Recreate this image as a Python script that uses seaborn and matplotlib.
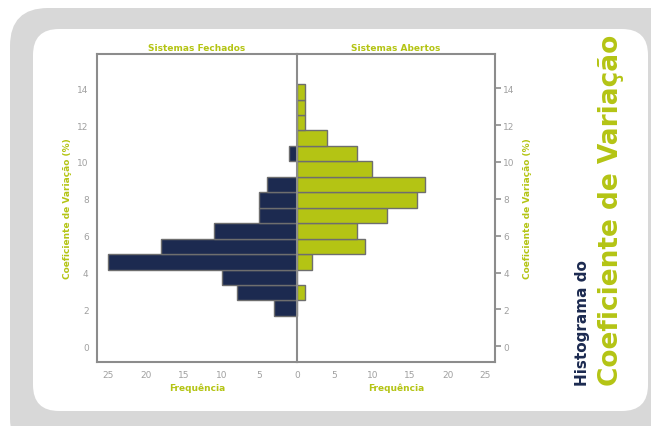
import seaborn as sns
import numpy as np
import pandas as pd
import matplotlib.pyplot as plt
from matplotlib.patches import FancyBboxPatch
from matplotlib.transforms import IdentityTransform

# bin edges of the coefficient of variation (%)
edges = [1.65, 2.49, 3.33, 4.16, 5.0, 5.84, 6.68, 7.52, 8.35, 9.19, 10.03, 10.87, 11.71, 12.55, 13.38, 14.22]
fechados = [3, 8, 10, 25, 18, 11, 5, 5, 4, 0, 1, 0, 0, 0, 0]
abertos = [0, 1, 0, 2, 9, 8, 12, 16, 17, 10, 8, 4, 1, 1, 1]
yticks = [0, 2, 4, 6, 8, 10, 12, 14]
xticks = [0, 5, 10, 15, 20, 25]

mids = [(edges[i] + edges[i + 1]) / 2 for i in range(len(edges) - 1)]
data = pd.DataFrame({'cv': mids, 'Fechados': fechados, 'Abertos': abertos})

navy = '#1c2a50'
green = '#b4c414'
gray = '#8c8c8c'
tickgray = '#a0a0a0'

sns.set_style('white')
plt.rcParams['font.family'] = ['DejaVu Sans']

fig = plt.figure(figsize=(6.51, 4.27), dpi=100)

# gray frame with rounded white panel
fig.patches.append(FancyBboxPatch((10, -30), 700, 448, boxstyle='round,pad=0,rounding_size=38',
                                  transform=IdentityTransform(), facecolor='#d8d8d8', edgecolor='none', zorder=-2))
fig.patches.append(FancyBboxPatch((33, 15), 615, 382, boxstyle='round,pad=0,rounding_size=26',
                                  transform=IdentityTransform(), facecolor='white', edgecolor='none', zorder=-1))

axl = fig.add_axes([97 / 651, 1 - 363 / 427, 200 / 651, 308 / 427])
axr = fig.add_axes([297 / 651, 1 - 363 / 427, 198 / 651, 308 / 427], sharey=axl)

sns.histplot(data=data, y='cv', weights='Fechados', bins=edges, color=navy, alpha=1,
             edgecolor='#6e6e6e', linewidth=1, ax=axl)
sns.histplot(data=data, y='cv', weights='Abertos', bins=edges, color=green, alpha=1,
             edgecolor='#6e6e6e', linewidth=1, ax=axr)

axl.set_xlim(26.5, 0)
axr.set_xlim(0, 26.3)
axl.set_ylim(-0.85, 15.85)
axl.set_yticks(yticks)
axl.set_xticks(xticks)
axr.set_xticks(xticks[1:])

for ax in (axl, axr):
    ax.set_facecolor('none')
    for s in ax.spines.values():
        s.set_color(gray)
        s.set_linewidth(1.5)
    ax.tick_params(colors=gray, labelcolor=tickgray, labelsize=6.5, length=4, width=1.2,
                   direction='out', pad=2)
    ax.set_xlabel('Frequência', color=green, fontsize=6.5, fontweight='bold', labelpad=2)

axl.spines['right'].set_visible(False)
axr.tick_params(axis='y', left=False, right=True, labelleft=False, labelright=True)
axr.yaxis.set_label_position('right')

axl.set_ylabel('Coeficiente de Variação (%)', color=green, fontsize=6.5, fontweight='bold', labelpad=4)
axr.set_ylabel('Coeficiente de Variação (%)', color=green, fontsize=6.5, fontweight='bold',
               rotation=90, labelpad=6)

axl.set_title('Sistemas Fechados', color=green, fontsize=6.5, fontweight='bold', pad=3)
axr.set_title('Sistemas Abertos', color=green, fontsize=6.5, fontweight='bold', pad=3)

# side title
fig.text(582 / 651, 1 - 386 / 427, 'Histograma do', color=navy, fontsize=11, fontweight='bold',
         rotation=90, ha='center', va='bottom')
fig.text(611 / 651, 1 - 386 / 427, 'Coeficiente de Variação', color=green, fontsize=19,
         fontweight='bold', rotation=90, ha='center', va='bottom')

fig.savefig('out.png', dpi=100)
